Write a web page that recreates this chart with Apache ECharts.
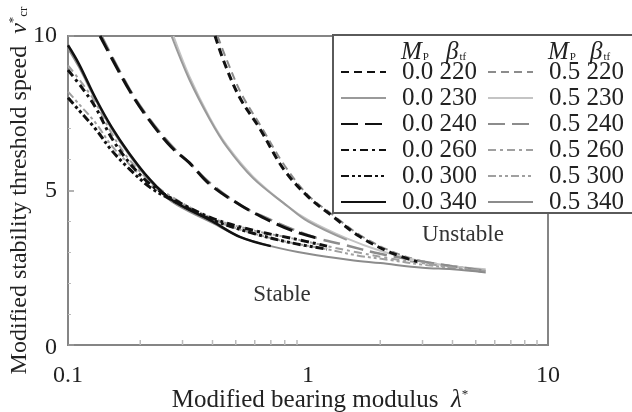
<!DOCTYPE html>
<html>
<head>
<meta charset="utf-8">
<script src="https://cdn.jsdelivr.net/npm/echarts@6/dist/echarts.min.js"></script>
<style>
  html, body { margin: 0; padding: 0; background: #fff; }
  #chart { width: 632px; height: 412px; }
</style>
</head>
<body>
<div id="chart"></div>
<script>
// Modified bearing modulus (lambda*) and threshold speed (v*_cr) per curve.
// Mp = 0.0
const lam220a = [0.41, 0.45, 0.52, 0.63, 0.79, 1.0, 1.25, 1.65, 2.2, 2.85];
const v220a   = [10, 9.1, 8.0, 7.0, 5.7, 4.8, 4.2, 3.5, 3.0, 2.7];
const lam230a = [0.27, 0.32, 0.39, 0.46, 0.59, 0.82, 1.0, 1.45];
const v230a   = [10, 8.6, 7.3, 6.4, 5.4, 4.5, 4.0, 3.4];
const lam240a = [0.136, 0.18, 0.217, 0.27, 0.32, 0.39, 0.53, 0.7, 0.86, 1.1];
const v240a   = [10, 8.25, 7.3, 6.4, 5.9, 5.2, 4.5, 4.0, 3.7, 3.45];
const lam260a = [0.1, 0.115, 0.13, 0.152, 0.18, 0.22, 0.27, 0.4, 0.6, 0.86, 1.2];
const v260a   = [8.9, 8.3, 7.7, 6.7, 5.9, 5.2, 4.75, 4.1, 3.7, 3.45, 3.2];
const lam300a = [0.1, 0.111, 0.13, 0.152, 0.18, 0.22, 0.27, 0.4, 0.6, 0.86, 1.2];
const v300a   = [8.0, 7.6, 7.0, 6.3, 5.7, 5.1, 4.7, 4.05, 3.6, 3.3, 3.1];
const lam340a = [0.1, 0.111, 0.13, 0.152, 0.18, 0.217, 0.27, 0.4, 0.52, 0.7];
const v340a   = [9.7, 9.1, 8.0, 7.05, 6.2, 5.4, 4.7, 4.0, 3.5, 3.2];
// Mp = 0.5
const lam220b = [0.42, 0.46, 0.53, 0.64, 0.8, 1.0, 1.25, 1.65, 2.2, 2.85, 3.6, 4.5, 5.5];
const v220b   = [10, 9.2, 8.1, 7.05, 5.8, 4.85, 4.25, 3.55, 3.05, 2.75, 2.6, 2.5, 2.4];
const lam230b = [0.275, 0.32, 0.39, 0.46, 0.59, 0.82, 1.0, 1.45, 2.0, 3.0, 4.0, 5.5];
const v230b   = [10, 8.7, 7.35, 6.45, 5.45, 4.5, 4.05, 3.45, 3.05, 2.7, 2.55, 2.45];
const lam240b = [0.138, 0.18, 0.217, 0.27, 0.32, 0.39, 0.53, 0.7, 0.86, 1.1, 1.4, 2.0, 3.0, 4.0, 5.5];
const v240b   = [10, 8.3, 7.35, 6.45, 5.9, 5.25, 4.5, 4.05, 3.75, 3.45, 3.25, 2.95, 2.7, 2.55, 2.4];
const lam260b = [0.1, 0.115, 0.13, 0.152, 0.18, 0.22, 0.27, 0.4, 0.6, 0.86, 1.2, 1.6, 2.2, 3.0, 4.0, 5.5];
const v260b   = [9.05, 8.45, 7.85, 6.85, 6.0, 5.3, 4.8, 4.1, 3.7, 3.45, 3.2, 3.0, 2.8, 2.65, 2.5, 2.35];
const lam300b = [0.1, 0.111, 0.13, 0.152, 0.18, 0.22, 0.27, 0.4, 0.6, 0.86, 1.2, 1.6, 2.2, 3.0, 4.0, 5.5];
const v300b   = [8.2, 7.8, 7.2, 6.45, 5.85, 5.2, 4.75, 4.05, 3.6, 3.3, 3.1, 2.9, 2.75, 2.6, 2.5, 2.4];
const lam340b = [0.1, 0.111, 0.13, 0.152, 0.18, 0.217, 0.27, 0.4, 0.52, 0.7, 1.0, 1.5, 2.0, 3.0, 4.0, 5.5];
const v340b   = [9.6, 9.0, 7.95, 7.0, 6.15, 5.35, 4.65, 3.95, 3.5, 3.2, 2.95, 2.75, 2.65, 2.5, 2.45, 2.35];

const betaLabels = ['220', '230', '240', '260', '300', '340'];
const mpLabels = ['0.0', '0.5'];
const xTickLabels = ['0.1', '1', '10'];
const minorLam = [0.2, 0.3, 0.4, 0.5, 0.6, 0.7, 0.8, 0.9, 2, 3, 4, 5, 6, 7, 8, 9];

const SERIF = '"Liberation Serif", "DejaVu Serif", serif';

const pair = (xs, ys) => xs.map((x, i) => [x, ys[i]]);

// line style per beta, for the Mp = 0.0 family and the Mp = 0.5 family
const styleA = {
  '220': { color: '#111', width: 3, type: [8, 5] },
  '230': { color: '#9a9a9a', width: 2, type: 'solid' },
  '240': { color: '#111', width: 3, type: [17, 7] },
  '260': { color: '#111', width: 3, type: [8, 4, 3, 4] },
  '300': { color: '#111', width: 3, type: [8, 3, 3, 3, 3, 3] },
  '340': { color: '#111', width: 2.5, type: 'solid' }
};
const styleB = {
  '220': { color: '#8c8c8c', width: 2, type: [8, 5] },
  '230': { color: '#c4c4c4', width: 2, type: 'solid' },
  '240': { color: '#8c8c8c', width: 2.5, type: [17, 7] },
  '260': { color: '#a0a0a0', width: 2, type: [8, 4, 3, 4] },
  '300': { color: '#a0a0a0', width: 2, type: [8, 3, 3, 3, 3, 3] },
  '340': { color: '#8c8c8c', width: 2, type: 'solid' }
};

const dataA = {
  '220': pair(lam220a, v220a), '230': pair(lam230a, v230a), '240': pair(lam240a, v240a),
  '260': pair(lam260a, v260a), '300': pair(lam300a, v300a), '340': pair(lam340a, v340a)
};
const dataB = {
  '220': pair(lam220b, v220b), '230': pair(lam230b, v230b), '240': pair(lam240b, v240b),
  '260': pair(lam260b, v260b), '300': pair(lam300b, v300b), '340': pair(lam340b, v340b)
};

const namesA = betaLabels.map(b => mpLabels[0] + ' ' + b);
const namesB = betaLabels.map(b => mpLabels[1] + ' ' + b);

function lineSeries(name, data, st, z) {
  return {
    name: name,
    type: 'line',
    data: data,
    smooth: 0.35,
    symbol: 'none',
    showSymbol: false,
    clip: true,
    z: z,
    lineStyle: { color: st.color, width: st.width, type: st.type },
    itemStyle: { color: st.color },
    emphasis: { disabled: true }
  };
}

const series = [];
betaLabels.forEach((b, i) => series.push(lineSeries(namesB[i], dataB[b], styleB[b], 2)));
betaLabels.forEach((b, i) => series.push(lineSeries(namesA[i], dataA[b], styleA[b], 3)));

// small inner ticks on the log axis between decades
series.push({
  type: 'custom',
  silent: true,
  z: 1,
  data: minorLam.map(x => [x, 0]),
  renderItem: function (params, api) {
    const p = api.coord([api.value(0), 0]);
    return {
      type: 'line',
      shape: { x1: p[0], y1: p[1], x2: p[0], y2: p[1] - 5 },
      style: { stroke: '#bbb', lineWidth: 1.5 }
    };
  }
});

const legendCommon = {
  orient: 'vertical',
  top: 59,
  padding: 0,
  itemWidth: 45,
  itemHeight: 14,
  itemGap: 0,
  selectedMode: false,
  z: 6,
  itemStyle: { opacity: 0, borderWidth: 0 },
  textStyle: {
    fontFamily: SERIF, fontSize: 25, color: '#222', lineHeight: 26,
    padding: [0, 0, 0, 11]
  }
};

const headStyle = {
  m: { fontFamily: SERIF, fontSize: 25, fontStyle: 'italic', fill: '#222' },
  s: { fontFamily: SERIF, fontSize: 11, fill: '#222', padding: [10, 0, 0, 1] }
};

function header(x, txt) {
  return {
    type: 'text', z: 7, x: x, y: 52, silent: true,
    style: { text: txt, rich: headStyle, verticalAlign: 'middle' }
  };
}

const chart = echarts.init(document.getElementById('chart'), null, { renderer: 'canvas' });
chart.setOption({
  animation: false,
  backgroundColor: '#fff',
  grid: {
    left: 68, right: 84, top: 36, bottom: 67,
    containLabel: false,
    outerBoundsMode: 'none',
    show: true, borderColor: '#858585', borderWidth: 2, backgroundColor: 'transparent'
  },
  xAxis: {
    type: 'log',
    logBase: 10,
    min: 0.1,
    max: 10,
    name: 'Modified bearing modulus  {i|λ}{sup|*}',
    nameLocation: 'middle',
    nameGap: 43,
    nameMoveOverlap: false,
    nameTextStyle: {
      fontFamily: SERIF, fontSize: 25, color: '#222', padding: [0, 0, 0, 24],
      rich: {
        i: { fontFamily: SERIF, fontSize: 25, fontStyle: 'italic', color: '#222' },
        sup: { fontFamily: SERIF, fontSize: 13, color: '#222', padding: [0, 0, 12, 0] }
      }
    },
    axisLine: { lineStyle: { color: '#858585', width: 2 } },
    axisTick: { show: false },
    splitLine: { show: false },
    axisLabel: {
      fontFamily: SERIF, fontSize: 24, color: '#222', margin: 19,
      formatter: function (v) {
        const s = String(+v.toPrecision(3));
        return xTickLabels.indexOf(s) >= 0 ? s : '';
      }
    }
  },
  yAxis: {
    type: 'value',
    min: 0,
    max: 10,
    interval: 5,
    name: 'Modified stability threshold speed  {i|v}{sup|*}{sub|cr}',
    nameLocation: 'middle',
    nameGap: 36,
    nameMoveOverlap: false,
    nameTextStyle: {
      fontFamily: SERIF, fontSize: 24, color: '#222',
      rich: {
        i: { fontFamily: SERIF, fontSize: 24, fontStyle: 'italic', color: '#222' },
        sup: { fontFamily: SERIF, fontSize: 13, color: '#222', padding: [0, 0, 12, 0] },
        sub: { fontFamily: SERIF, fontSize: 13, color: '#222', padding: [9, 0, 0, 0] }
      }
    },
    axisLine: { show: true, lineStyle: { color: '#858585', width: 2 } },
    axisTick: { show: true, inside: true, length: 6, lineStyle: { color: '#999', width: 1.5 } },
    minorTick: { show: true, splitNumber: 5, length: 3, lineStyle: { color: '#bbb', width: 1 } },
    splitLine: { show: false },
    axisLabel: {
      fontFamily: SERIF, fontSize: 24, color: '#222', margin: 11,
      formatter: function (v) { return v === 0 ? '{z|0}' : String(v); },
      rich: {
        z: { fontFamily: SERIF, fontSize: 24, color: '#222', padding: [6, 0, 0, 0] }
      }
    }
  },
  legend: [
    Object.assign({}, legendCommon, { left: 340, data: namesA }),
    Object.assign({}, legendCommon, { left: 487, data: namesB })
  ],
  graphic: [
    {
      type: 'rect', z: 5, silent: true,
      shape: { x: 333, y: 35, width: 320, height: 178 },
      style: { fill: '#fff', stroke: '#5a5a5a', lineWidth: 2 }
    },
    header(401, '{m|M}{s|P}'),
    header(446, '{m|β}{s|tf}'),
    header(548, '{m|M}{s|P}'),
    header(590, '{m|β}{s|tf}'),
    {
      type: 'text', z: 7, silent: true, x: 282, y: 295,
      style: { text: 'Stable', font: '23px ' + SERIF, fill: '#333', align: 'center', verticalAlign: 'middle' }
    },
    {
      type: 'text', z: 7, silent: true, x: 463, y: 235,
      style: { text: 'Unstable', font: '23px ' + SERIF, fill: '#333', align: 'center', verticalAlign: 'middle' }
    }
  ],
  series: series
});
</script>
</body>
</html>
